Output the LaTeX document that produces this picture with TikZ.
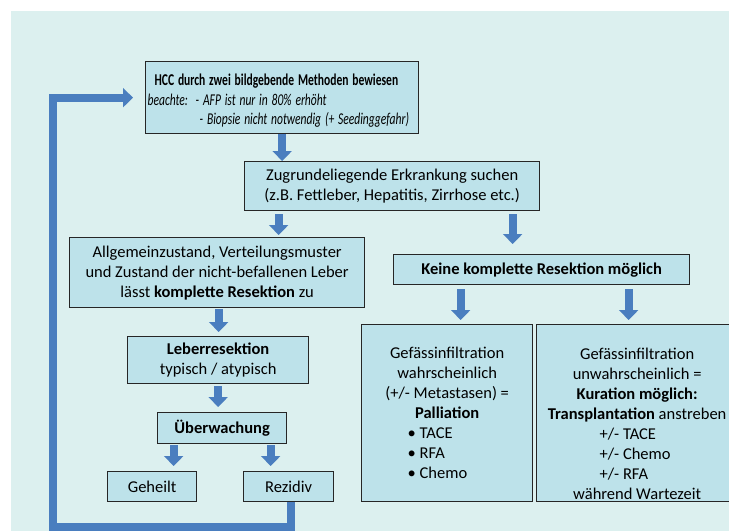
\documentclass[tikz,border=0pt]{standalone}
\usepackage{fontspec}
\usepackage{graphicx}
\setmainfont{Carlito}
\usetikzlibrary{arrows.meta,positioning}
\definecolor{hgblau}{HTML}{DCF0EF}
\definecolor{kasten}{HTML}{BDE2EA}
\definecolor{pfeil}{HTML}{4A7EBF}
\newcommand{\eng}[1]{\scalebox{0.7}[1]{#1}}
\tikzset{
  box/.style={draw=black!85, line width=1.3pt, fill=kasten, inner sep=2pt,
    anchor=north west, align=center, font=\fontsize{16.5}{20}\selectfont},
  blk/.style={draw=pfeil, line width=8pt, -{Triangle[width=19pt,length=10pt]}},
}
\begin{document}
\begin{tikzpicture}[x=1pt,y=-1pt]
    \useasboundingbox (0,0) rectangle (729,531);
    \clip (0,0) rectangle (729,531);
    \fill[hgblau] (11,11) rectangle (729,531); % hintergrund

    \node[box, align=left, text width=269pt, minimum height=72pt,
      font=\fontsize{16.5}{19.5}\selectfont] (hcc) at (145,61)
      {\rule{0pt}{18pt}\hspace*{7pt}\eng{\textbf{HCC durch zwei bildgebende Methoden bewiesen}}\\
       \makebox[48pt][l]{\eng{\textit{beachte:}}}\eng{\textit{- AFP ist nur in 80\% erhöht}}\\
       \hspace*{52pt}\eng{\textit{- Biopsie nicht notwendig (+ Seedinggefahr)}}};
    \node[box, minimum width=295pt, minimum height=49pt] (zug) at (244,161)
      {Zugrundeliegende Erkrankung suchen\\(z.B. Fettleber, Hepatitis, Zirrhose etc.)};
    \node[box, minimum width=295pt, minimum height=70pt] (allg) at (69,237)
      {Allgemeinzustand, Verteilungsmuster\\und Zustand der nicht-befallenen Leber\\
       lässt \textbf{komplette Resektion} zu};
    \node[box, minimum width=296pt, minimum height=30pt] (keine) at (393,254)
      {\textbf{Keine komplette Resektion möglich}};

    \node[box, minimum width=181pt, minimum height=47pt] (leber) at (127,336)
      {\textbf{Leberresektion}\\typisch / atypisch};
    \node[box, minimum width=129pt, minimum height=31pt] (ueber) at (157,412)
      {\textbf{Überwachung}};
    \node[box, minimum width=89pt, minimum height=30pt] (geheilt) at (107,471) {Geheilt};
    \node[box, minimum width=90pt, minimum height=30pt] (rezidiv) at (243,471) {Rezidiv};

    \node[box, minimum width=171pt, minimum height=177pt] (gefl) at (361,324)
      {Gefässinfiltration\\wahrscheinlich\\(+/- Metastasen) =\\\textbf{Palliation}\\
       \makebox[79pt][l]{\makebox[12pt][l]{\textbullet}TACE}\\
       \makebox[79pt][l]{\makebox[12pt][l]{\textbullet}RFA}\\
       \makebox[79pt][l]{\makebox[12pt][l]{\textbullet}Chemo}};
    \node[box, minimum width=201pt, minimum height=177pt] (gefr) at (536,324)
      {\rule{0pt}{32pt}Gefässinfiltration\\unwahrscheinlich =\\\textbf{Kuration möglich:}\\
       \textbf{Transplantation} anstreben\\
       \makebox[75pt][l]{+/- TACE}\\\makebox[75pt][l]{+/- Chemo}\\
       \makebox[75pt][l]{+/- RFA}\\während Wartezeit};

    % pfeile
    \draw[blk] (hcc.south) -- (hcc.south |- zug.north);
    \draw[blk, shorten <=3pt, shorten >=2pt] ([xshift=-113.5pt]zug.south)
      -- ([xshift=-113.5pt]zug.south |- allg.north);
    \draw[blk, shorten <=3pt, shorten >=10pt] ([xshift=120.5pt]zug.south)
      -- ([xshift=120.5pt]zug.south |- keine.north);
    \draw[blk, shorten <=4pt, shorten >=4pt] ([xshift=-81pt]keine.south)
      -- ([xshift=-81pt]keine.south |- gefl.north);
    \draw[blk, shorten <=4pt, shorten >=4pt] ([xshift=87pt]keine.south)
      -- ([xshift=87pt]keine.south |- gefr.north);
    \draw[blk, shorten <=1pt, shorten >=4pt] ([xshift=1.5pt]allg.south)
      -- ([xshift=1.5pt]allg.south |- leber.north);
    \draw[blk, shorten <=2pt, shorten >=5pt] (leber.south) -- (leber.south |- ueber.north);
    \draw[blk, shorten <=1pt, shorten >=5pt] ([xshift=-48.5pt]ueber.south)
      -- ([xshift=-48.5pt]ueber.south |- geheilt.north);
    \draw[blk, shorten <=1pt, shorten >=5pt] ([xshift=48.5pt]ueber.south)
      -- ([xshift=48.5pt]ueber.south |- rezidiv.north);

    % rueckfuehrung
    \coordinate (ecke) at (53,527);
    \draw[blk, line join=miter, shorten >=12pt] ([xshift=2pt]rezidiv.south) |- (ecke) |- (hcc.west);
\end{tikzpicture}
\end{document}
